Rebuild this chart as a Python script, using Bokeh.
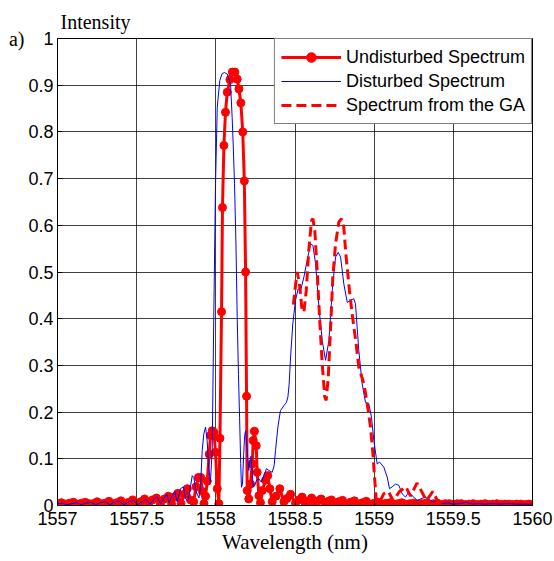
from bokeh.plotting import figure
from bokeh.models import Range1d, FixedTicker, CustomJSTickFormatter, Legend, Title
from bokeh.embed import file_html
from bokeh.resources import INLINE

# ---------------- data ----------------
undist_wl = [
    1557.000, 1557.025, 1557.050, 1557.075, 1557.100, 1557.125, 1557.150, 1557.175,
    1557.200, 1557.225, 1557.250, 1557.275, 1557.300, 1557.325, 1557.350, 1557.375,
    1557.400, 1557.425, 1557.450, 1557.475, 1557.500, 1557.525, 1557.550, 1557.575,
    1557.600, 1557.625, 1557.650, 1557.675, 1557.700, 1557.720, 1557.740, 1557.760,
    1557.780, 1557.800, 1557.820, 1557.840, 1557.860, 1557.875, 1557.890, 1557.905,
    1557.915, 1557.925, 1557.935, 1557.946, 1557.958, 1557.966, 1557.977, 1557.988,
    1557.998, 1558.009, 1558.019, 1558.026, 1558.036, 1558.042, 1558.051, 1558.061,
    1558.072, 1558.089, 1558.104, 1558.120, 1558.135, 1558.146, 1558.158, 1558.170,
    1558.180, 1558.188, 1558.194, 1558.198, 1558.208, 1558.219, 1558.230, 1558.236,
    1558.244, 1558.255, 1558.261, 1558.272, 1558.282, 1558.293, 1558.314, 1558.328,
    1558.341, 1558.356, 1558.380, 1558.404, 1558.430, 1558.450, 1558.472, 1558.503,
    1558.525, 1558.545, 1558.565, 1558.585, 1558.605, 1558.625, 1558.645, 1558.665,
    1558.690, 1558.710, 1558.730, 1558.750, 1558.775, 1558.800, 1558.825, 1558.850,
    1558.875, 1558.900, 1558.925, 1558.950, 1558.975, 1559.000, 1559.025, 1559.050,
    1559.075, 1559.100, 1559.125, 1559.150, 1559.175, 1559.200, 1559.225, 1559.250,
    1559.275, 1559.300, 1559.325, 1559.350, 1559.375, 1559.400, 1559.425, 1559.450,
    1559.475, 1559.500, 1559.525, 1559.550, 1559.575, 1559.600, 1559.625, 1559.650,
    1559.675, 1559.700, 1559.725, 1559.750, 1559.775, 1559.800, 1559.825, 1559.850,
    1559.875, 1559.900, 1559.925, 1559.950, 1559.975, 1560.000,
]
undist_int = [
    0.004, 0.006, 0.003, 0.005, 0.007, 0.003, 0.005, 0.007,
    0.004, 0.004, 0.008, 0.004, 0.005, 0.009, 0.004, 0.006,
    0.010, 0.004, 0.007, 0.012, 0.004, 0.008, 0.014, 0.004,
    0.012, 0.016, 0.003, 0.014, 0.020, 0.004, 0.018, 0.026,
    0.004, 0.024, 0.036, 0.012, 0.008, 0.040, 0.060, 0.060,
    0.030, 0.004, 0.020, 0.052, 0.110, 0.150, 0.160, 0.157,
    0.114, 0.036, 0.004, 0.144, 0.415, 0.638, 0.771, 0.842,
    0.885, 0.912, 0.928, 0.928, 0.913, 0.892, 0.862, 0.800,
    0.695, 0.500, 0.234, 0.032, 0.014, 0.046, 0.089, 0.139,
    0.159, 0.128, 0.071, 0.021, 0.006, 0.032, 0.054, 0.064,
    0.036, 0.008, 0.020, 0.036, 0.008, 0.015, 0.024, 0.005,
    0.012, 0.018, 0.004, 0.010, 0.016, 0.004, 0.010, 0.014,
    0.003, 0.009, 0.012, 0.003, 0.008, 0.011, 0.003, 0.007,
    0.010, 0.003, 0.006, 0.009, 0.003, 0.005, 0.007, 0.003,
    0.005, 0.006, 0.003, 0.004, 0.006, 0.003, 0.004, 0.005,
    0.003, 0.004, 0.005, 0.002, 0.004, 0.005, 0.002, 0.004,
    0.004, 0.002, 0.004, 0.004, 0.002, 0.003, 0.004, 0.002,
    0.003, 0.004, 0.002, 0.003, 0.004, 0.002, 0.003, 0.003,
    0.002, 0.003, 0.003, 0.002, 0.003, 0.003,
]

dist_wl = [
    1557.000, 1557.030, 1557.060, 1557.090, 1557.120, 1557.150, 1557.180, 1557.210,
    1557.240, 1557.270, 1557.300, 1557.330, 1557.360, 1557.390, 1557.420, 1557.450,
    1557.480, 1557.510, 1557.540, 1557.560, 1557.585, 1557.610, 1557.630, 1557.650,
    1557.672, 1557.690, 1557.705, 1557.724, 1557.740, 1557.756, 1557.777, 1557.795,
    1557.810, 1557.823, 1557.836, 1557.851, 1557.861, 1557.875, 1557.893, 1557.903,
    1557.914, 1557.924, 1557.935, 1557.945, 1557.955, 1557.966, 1557.977, 1557.987,
    1557.998, 1558.009, 1558.025, 1558.040, 1558.055, 1558.072, 1558.093, 1558.103,
    1558.110, 1558.118, 1558.127, 1558.135, 1558.143, 1558.150, 1558.157, 1558.162,
    1558.168, 1558.176, 1558.182, 1558.188, 1558.196, 1558.208, 1558.215, 1558.221,
    1558.228, 1558.236, 1558.245, 1558.258, 1558.272, 1558.287, 1558.303, 1558.320,
    1558.335, 1558.356, 1558.368, 1558.377, 1558.392, 1558.408, 1558.430, 1558.445,
    1558.455, 1558.463, 1558.472, 1558.486, 1558.503, 1558.520, 1558.535, 1558.556,
    1558.577, 1558.598, 1558.613, 1558.630, 1558.651, 1558.672, 1558.693, 1558.714,
    1558.735, 1558.756, 1558.773, 1558.788, 1558.808, 1558.830, 1558.851, 1558.871,
    1558.882, 1558.903, 1558.924, 1558.945, 1558.966, 1558.983, 1558.998, 1559.019,
    1559.034, 1559.061, 1559.082, 1559.097, 1559.114, 1559.135, 1559.156, 1559.177,
    1559.198, 1559.219, 1559.240, 1559.272, 1559.293, 1559.320, 1559.356, 1559.377,
    1559.398, 1559.430, 1559.460, 1559.500, 1559.540, 1559.580, 1559.620, 1559.660,
    1559.700, 1559.750, 1559.800, 1559.850, 1559.900, 1559.950, 1560.000,
]
dist_int = [
    0.003, 0.005, 0.002, 0.004, 0.006, 0.002, 0.005, 0.007,
    0.002, 0.006, 0.008, 0.002, 0.007, 0.009, 0.002, 0.008,
    0.011, 0.002, 0.010, 0.013, 0.003, 0.014, 0.018, 0.004,
    0.016, 0.024, 0.006, 0.021, 0.030, 0.008, 0.036, 0.040,
    0.014, 0.010, 0.032, 0.064, 0.060, 0.030, 0.016, 0.039,
    0.118, 0.153, 0.168, 0.140, 0.080, 0.050, 0.120, 0.403,
    0.689, 0.853, 0.910, 0.925, 0.927, 0.924, 0.903, 0.831,
    0.770, 0.689, 0.560, 0.403, 0.280, 0.189, 0.090, 0.039,
    0.045, 0.110, 0.150, 0.160, 0.125, 0.075, 0.095, 0.105,
    0.080, 0.040, 0.042, 0.055, 0.057, 0.050, 0.064, 0.079,
    0.075, 0.071, 0.085, 0.118, 0.168, 0.203, 0.214, 0.220,
    0.232, 0.260, 0.318, 0.389, 0.439, 0.464, 0.460, 0.489,
    0.525, 0.560, 0.557, 0.518, 0.425, 0.353, 0.311, 0.353,
    0.460, 0.532, 0.542, 0.532, 0.475, 0.435, 0.439, 0.443,
    0.432, 0.332, 0.261, 0.221, 0.218, 0.189, 0.139, 0.089,
    0.093, 0.082, 0.061, 0.036, 0.040, 0.046, 0.043, 0.025,
    0.018, 0.029, 0.021, 0.011, 0.014, 0.018, 0.011, 0.007,
    0.012, 0.004, 0.006, 0.003, 0.004, 0.007, 0.003, 0.004,
    0.003, 0.004, 0.003, 0.004, 0.003, 0.003, 0.003,
]

ga_wl = [
    1558.490, 1558.499, 1558.514, 1558.528, 1558.545, 1558.556, 1558.571, 1558.587,
    1558.604, 1558.613, 1558.625, 1558.640, 1558.655, 1558.672, 1558.688, 1558.697,
    1558.710, 1558.724, 1558.739, 1558.756, 1558.777, 1558.794, 1558.808, 1558.823,
    1558.844, 1558.861, 1558.886, 1558.903, 1558.935, 1558.956, 1558.977, 1558.992,
    1559.004, 1559.013, 1559.030, 1559.060, 1559.090, 1559.120, 1559.160, 1559.200,
    1559.230, 1559.270, 1559.300, 1559.330, 1559.370, 1559.400, 1559.450,
]
ga_int = [
    0.430, 0.460, 0.500, 0.475, 0.418, 0.414, 0.460, 0.546,
    0.610, 0.614, 0.589, 0.503, 0.403, 0.303, 0.232, 0.225,
    0.275, 0.375, 0.489, 0.560, 0.607, 0.614, 0.596, 0.532,
    0.460, 0.410, 0.346, 0.296, 0.261, 0.218, 0.168, 0.111,
    0.054, 0.011, 0.004, 0.025, 0.030, 0.010, 0.030, 0.040,
    0.020, 0.048, 0.030, 0.010, 0.030, 0.010, 0.000,
]

x_ticks = [1557, 1557.5, 1558, 1558.5, 1559, 1559.5, 1560]
y_ticks = [0, 0.1, 0.2, 0.3, 0.4, 0.5, 0.6, 0.7, 0.8, 0.9, 1]

SANS = "Liberation Sans"
SERIF = "Liberation Serif"

p = figure(width=554, height=561, output_backend="svg", toolbar_location=None,
           x_range=Range1d(1557, 1560), y_range=Range1d(0, 1),
           min_border_left=57, min_border_right=22, min_border_top=38,
           min_border_bottom=56)
p.background_fill_color = "white"
p.border_fill_color = "white"
p.outline_line_color = "black"
p.outline_line_width = 1

# "Intensity" as the title, above the top-left corner of the frame
p.title = Title(text="Intensity", align="left", offset=3, standoff=12,
                text_font=SERIF, text_font_size="20px", text_font_style="normal",
                text_color="black")

fmt = CustomJSTickFormatter(code="return String(Number(tick.toFixed(2)));")
for ax, ticks in ((p.xaxis[0], x_ticks), (p.yaxis[0], y_ticks)):
    ax.ticker = FixedTicker(ticks=ticks)
    ax.formatter = fmt
    ax.major_label_text_font = SANS
    ax.major_label_text_font_size = "18px"
    ax.major_label_text_color = "black"
    ax.axis_line_color = "black"
    ax.major_tick_in = 5
    ax.major_tick_out = 0
    ax.minor_tick_line_color = None
    ax.major_tick_line_color = "black"

p.yaxis.major_label_standoff = 4
p.xaxis.major_label_standoff = 6
p.xaxis.axis_label = "Wavelength (nm)"
p.xaxis.axis_label_text_font = SERIF
p.xaxis.axis_label_text_font_style = "normal"
p.xaxis.axis_label_text_font_size = "21px"
p.xaxis.axis_label_text_color = "black"
p.xaxis.axis_label_standoff = 2

# panel tag "a)" as the y axis label, horizontal, at the top of the axis
ya = p.yaxis[0]
ya.axis_label = "a)"
ya.axis_label_orientation = "horizontal"
ya.axis_label_text_font = SERIF
ya.axis_label_text_font_style = "normal"
ya.axis_label_text_font_size = "20px"
ya.axis_label_text_color = "black"
ya.axis_label_standoff = 1
ya.axis_label_text_baseline = "top"
if "axis_label_align" in ya.properties():
    ya.axis_label_align = "end"

p.xgrid.ticker = FixedTicker(ticks=x_ticks)
p.ygrid.ticker = FixedTicker(ticks=y_ticks)
for g in (p.xgrid[0], p.ygrid[0]):
    g.grid_line_color = "black"
    g.grid_line_alpha = 0.75
    g.grid_line_width = 1

r1 = p.line(undist_wl, undist_int, line_color="#ff0000", line_width=3)
r1b = p.scatter(undist_wl, undist_int, marker="circle", size=8,
                fill_color="#ff0000", line_color="#ff0000")
r2 = p.line(dist_wl, dist_int, line_color="#0000ff", line_width=1)
r3 = p.line(ga_wl, ga_int, line_color="#ff0000", line_width=3, line_dash="10 5")

legend = Legend(items=[("Undisturbed Spectrum", [r1, r1b]),
                       ("Disturbed Spectrum", [r2]),
                       ("Spectrum from the GA", [r3])],
                location="top_right")
legend.margin = 0
legend.padding = 6
legend.spacing = 0
legend.glyph_width = 60
legend.glyph_height = 24
legend.label_height = 24
legend.label_standoff = 5
legend.label_text_font = SANS
legend.label_text_font_size = "18px"
legend.label_text_color = "black"
legend.border_line_color = "black"
legend.border_line_width = 1
legend.background_fill_alpha = 1
p.add_layout(legend)

open("out.html", "w").write(file_html(p, INLINE))
